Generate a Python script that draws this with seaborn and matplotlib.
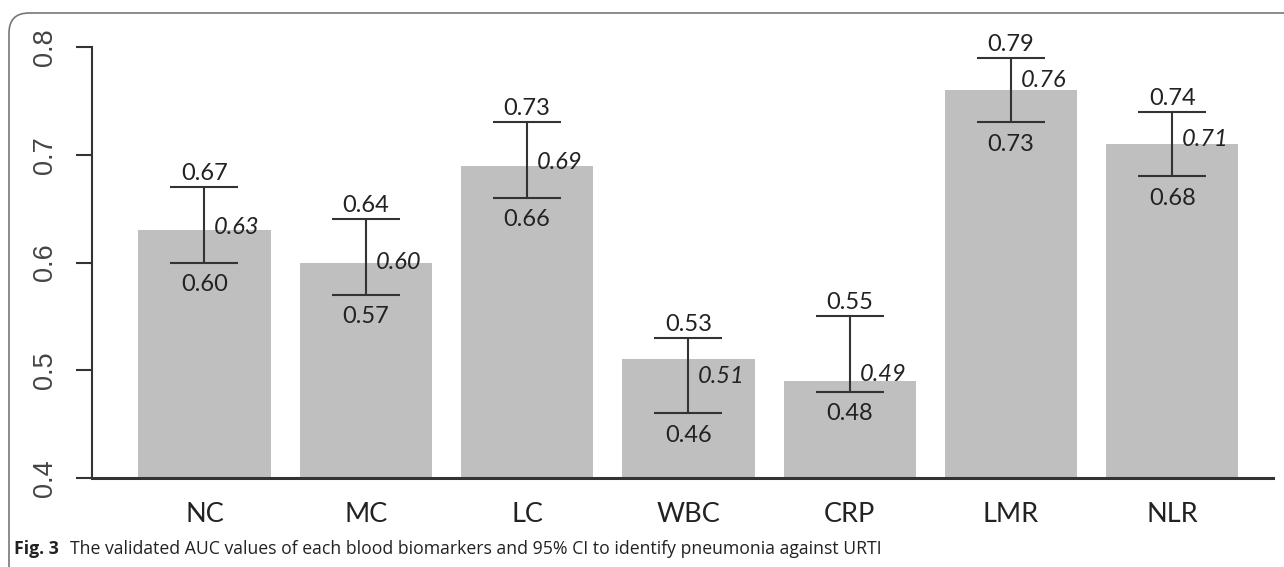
import matplotlib
matplotlib.use("Agg")
import matplotlib.pyplot as plt
import matplotlib.transforms as mtransforms
from matplotlib.patches import FancyBboxPatch
import seaborn as sns
import numpy as np
import pandas as pd

# ---- data ----
markers = ["NC", "MC", "LC", "WBC", "CRP", "LMR", "NLR"]
auc = [0.63, 0.60, 0.69, 0.51, 0.49, 0.76, 0.71]
ci_low = [0.60, 0.57, 0.66, 0.46, 0.48, 0.73, 0.68]
ci_high = [0.67, 0.64, 0.73, 0.53, 0.55, 0.79, 0.74]
y_ticks = [0.4, 0.5, 0.6, 0.7, 0.8]
caption_bold = "Fig. 3"
caption_text = ("The validated AUC values of each blood biomarkers and 95% CI "
                "to identify pneumonia against URTI")

# layout only: vertical nudge (points) of the italic AUC labels
auc_label_dy = [-2.5, -4.7, -2.5, -16.6, 0.0, 2.5, -1.4]

sns.set_theme(style="white")
plt.rcParams["font.family"] = ["Lato", "DejaVu Sans"]

W, H = 1284, 567
fig = plt.figure(figsize=(W / 100, H / 100), dpi=100)
ax = fig.add_axes([92 / W, 89 / H, 1181 / W, 431 / H])

df = pd.DataFrame({"marker": markers, "auc": auc})
sns.barplot(data=df, x="marker", y="auc", color="#bfbfbf", saturation=1,
            width=0.82, errorbar=None, ax=ax, linewidth=0)

pos = np.arange(len(markers))
auc_a = np.array(auc)
lo_a = np.array(ci_low)
hi_a = np.array(ci_high)
ax.errorbar(pos, auc_a, yerr=[auc_a - lo_a, hi_a - auc_a], fmt="none",
            ecolor="#333333", elinewidth=1.5, capsize=24.5, capthick=1.5,
            zorder=3)

txt_col = "#222222"
for i in range(len(markers)):
    ax.annotate(f"{ci_high[i]:.2f}", (pos[i], ci_high[i]), xytext=(0, 5),
                textcoords="offset points", ha="center", va="baseline",
                fontsize=17, color=txt_col, annotation_clip=False)
    ax.annotate(f"{ci_low[i]:.2f}", (pos[i], ci_low[i]), xytext=(0, -20.5),
                textcoords="offset points", ha="center", va="baseline",
                fontsize=17, color=txt_col, annotation_clip=False)
    ax.annotate(f"{auc[i]:.2f}", (pos[i], auc[i]), xytext=(7, auc_label_dy[i]),
                textcoords="offset points", ha="left", va="baseline",
                fontsize=17, fontstyle="italic", color=txt_col,
                annotation_clip=False)

ax.set_ylim(0.4, 0.8)
ax.set_xlim(-0.697, 6.624)
ax.set_yticks(y_ticks)
ax.set_yticklabels([f"{t:.1f}" for t in y_ticks])
ax.set_xlabel("")
ax.set_ylabel("")

for s in ["top", "right"]:
    ax.spines[s].set_visible(False)
ax.spines["left"].set_color("#333333")
ax.spines["left"].set_linewidth(1.5)
ax.spines["bottom"].set_color("#333333")
ax.spines["bottom"].set_linewidth(2.2)

ax.tick_params(axis="y", left=True, length=11.5, width=1.5, color="#333333",
               pad=13, labelrotation=90, labelsize=19.5, labelcolor="#444444")
ax.tick_params(axis="x", bottom=False, length=0, pad=17, labelsize=19.5,
               labelcolor=txt_col)
for lbl in ax.get_yticklabels():
    lbl.set_fontfamily("Liberation Sans")
    lbl.set_verticalalignment("center")

# caption
renderer = fig.canvas.get_renderer()
t1 = fig.text(14 / W, (H - 554) / H, caption_bold, fontsize=12.7,
              fontweight="bold", family="Open Sans", color="#222222",
              va="baseline")
bb = t1.get_window_extent(renderer=renderer)
fig.text((bb.x1 + 11) / W, (H - 554) / H, caption_text, fontsize=12.7,
         family="Open Sans", color="#222222", va="baseline")

# rounded frame
frame = FancyBboxPatch((9, -60), 1400, (H - 13) + 60,
                       boxstyle="round,pad=0,rounding_size=20",
                       transform=mtransforms.IdentityTransform(),
                       facecolor="none", edgecolor="#777777", linewidth=1.2)
fig.add_artist(frame)

fig.savefig("out.png", dpi=100)
